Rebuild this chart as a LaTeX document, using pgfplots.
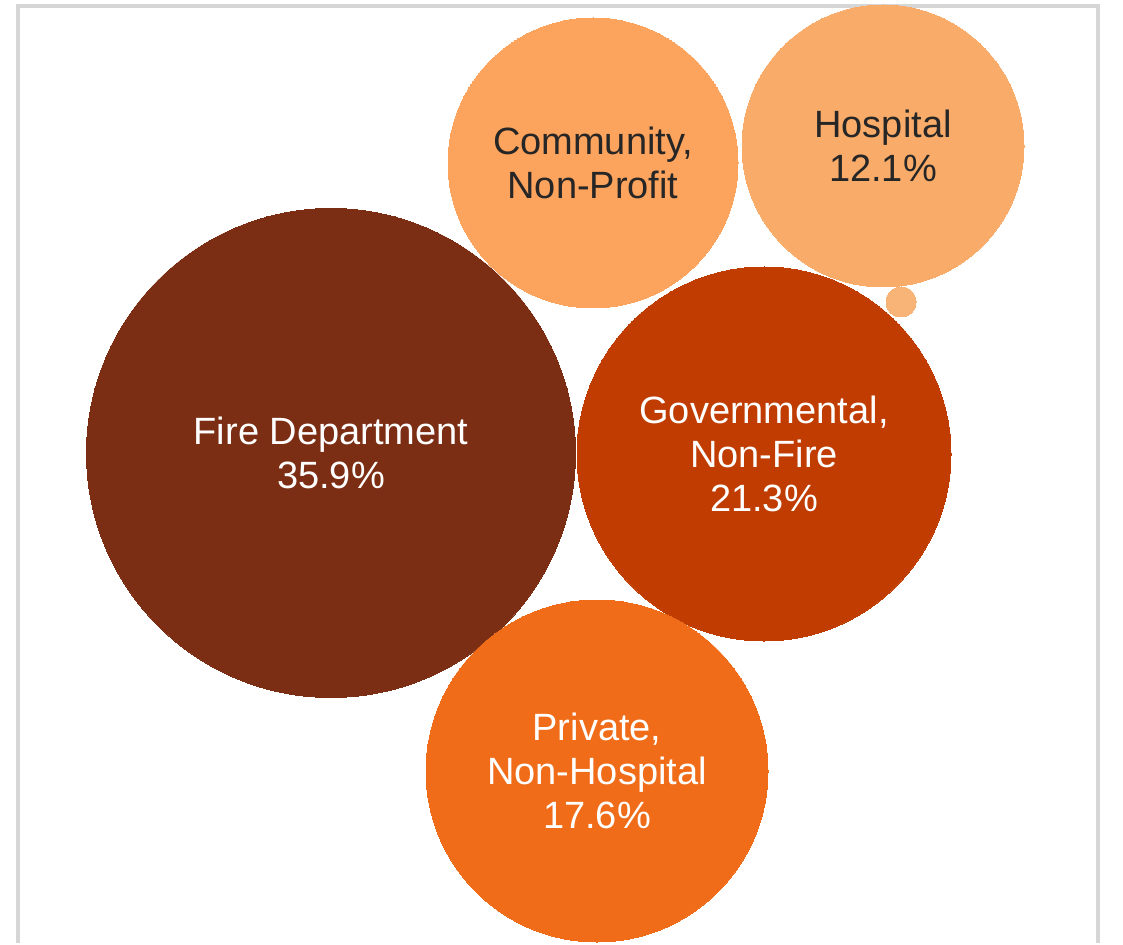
\documentclass[border=0pt]{standalone}
\usepackage{pgfplots}
\pgfplotsset{compat=1.18}
\usepackage{fontspec}
\setmainfont{Liberation Sans}
\definecolor{cFire}{HTML}{7B2E13}
\definecolor{cGov}{HTML}{C03C00}
\definecolor{cPriv}{HTML}{F06C19}
\definecolor{cComm}{HTML}{FCA35D}
\definecolor{cHosp}{HTML}{F9AC69}
\definecolor{cOther}{HTML}{F8B477}
\definecolor{cFrame}{HTML}{D6D6D6}
\definecolor{cDark}{HTML}{262626}
\begin{document}
\begin{tikzpicture}
\begin{axis}[
  width=561.5pt, height=471.5pt, scale only axis,
  xmin=0, xmax=1123, ymin=0, ymax=943, y dir=reverse,
  axis lines=none, clip=false,
  every node near coord/.append style={anchor=center, align=center, font=\fontsize{19}{22}\selectfont},
]
% fixed picture extent
\path (axis cs:0,0) rectangle (axis cs:1123,943);
% frame
\draw[cFrame, line width=2pt] (axis cs:18,943) -- (axis cs:18,6) -- (axis cs:1098,6) -- (axis cs:1098,943);
% bubbles: x, y, radius (px); mark size = radius*0.5pt
\addplot[only marks, mark=*, color=cComm, mark size=72.5pt, line width=0pt,
  nodes near coords, point meta=explicit symbolic, every node near coord/.append style={text=cDark}]
  coordinates {(593,163) [{Community,\\Non-Profit}]};
\addplot[only marks, mark=*, color=cHosp, mark size=70.5pt, line width=0pt,
  nodes near coords, point meta=explicit symbolic, every node near coord/.append style={text=cDark}]
  coordinates {(883,146) [{Hospital\\12.1\%}]};
\addplot[only marks, mark=*, color=cOther, mark size=7.5pt, line width=0pt]
  coordinates {(901,302)};
\addplot[only marks, mark=*, color=cFire, mark size=122.25pt, line width=0pt,
  nodes near coords, point meta=explicit symbolic, every node near coord/.append style={text=white}]
  coordinates {(331,453) [{Fire Department\\35.9\%}]};
\addplot[only marks, mark=*, color=cGov, mark size=93.5pt, line width=0pt,
  nodes near coords, point meta=explicit symbolic, every node near coord/.append style={text=white}]
  coordinates {(764,454) [{Governmental,\\Non-Fire\\21.3\%}]};
\addplot[only marks, mark=*, color=cPriv, mark size=85.5pt, line width=0pt,
  nodes near coords, point meta=explicit symbolic, every node near coord/.append style={text=white}]
  coordinates {(597,771) [{Private,\\Non-Hospital\\17.6\%}]};
\end{axis}
\end{tikzpicture}
\end{document}
